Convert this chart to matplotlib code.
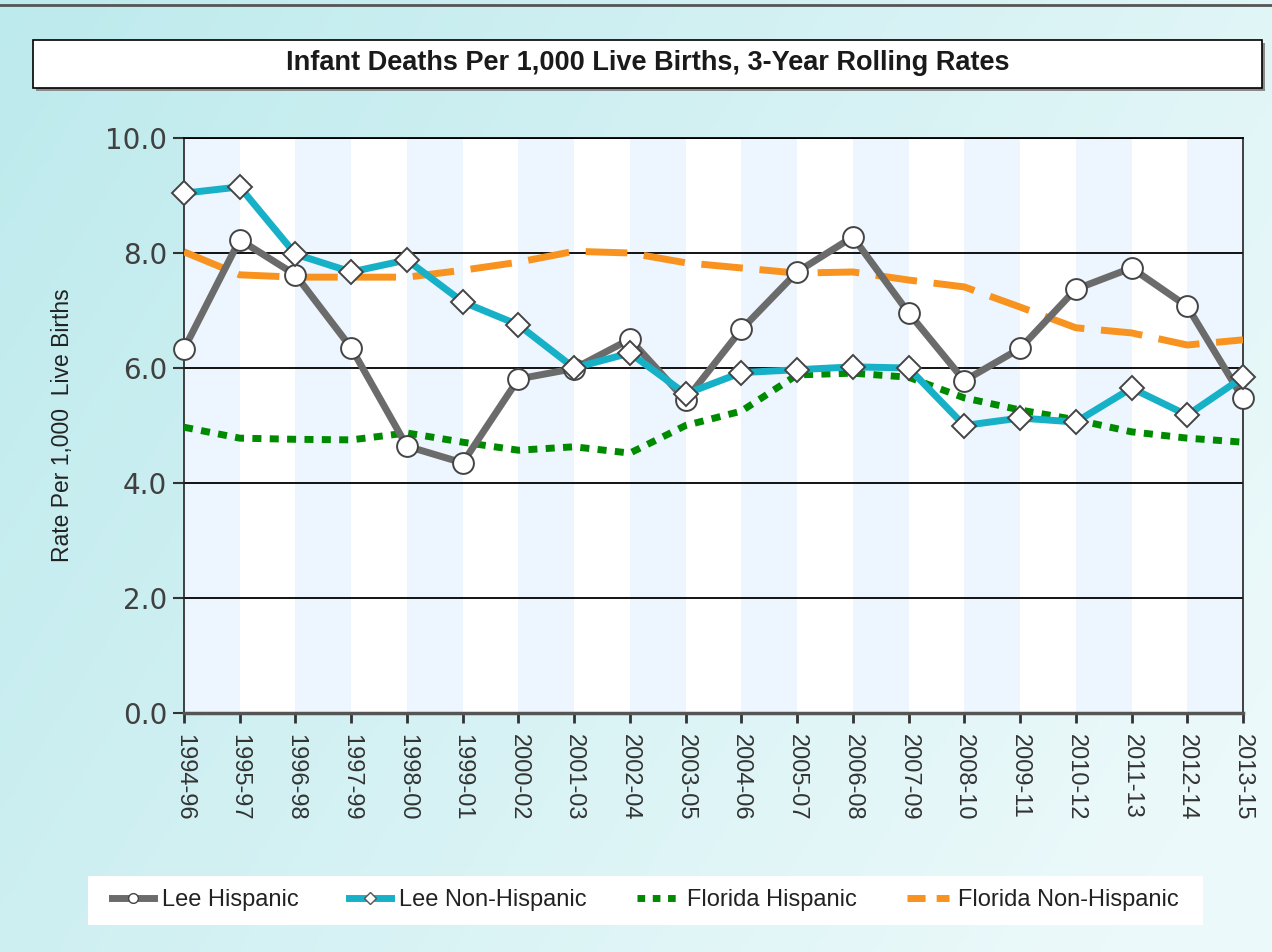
import numpy as np
import matplotlib
matplotlib.use('Agg')
import matplotlib.pyplot as plt
from matplotlib.patches import Rectangle
from matplotlib.lines import Line2D

plt.rcParams['font.family'] = ['Liberation Sans', 'DejaVu Sans']

periods = ['1994-96', '1995-97', '1996-98', '1997-99', '1998-00', '1999-01',
           '2000-02', '2001-03', '2002-04', '2003-05', '2004-06', '2005-07',
           '2006-08', '2007-09', '2008-10', '2009-11', '2010-12', '2011-13',
           '2012-14', '2013-15']
lee_hisp = [6.33, 8.23, 7.62, 6.35, 4.64, 4.35, 5.81, 5.99, 6.50, 5.44,
            6.67, 7.67, 8.28, 6.96, 5.78, 6.34, 7.37, 7.74, 7.07, 5.47]
lee_nonhisp = [9.04, 9.15, 7.98, 7.67, 7.88, 7.15, 6.75, 6.00, 6.26, 5.55,
               5.92, 5.97, 6.02, 6.00, 5.00, 5.13, 5.06, 5.65, 5.18, 5.84]
fl_hisp = [4.97, 4.78, 4.76, 4.75, 4.87, 4.71, 4.57, 4.63, 4.52, 5.00,
           5.25, 5.88, 5.91, 5.84, 5.48, 5.27, 5.10, 4.89, 4.78, 4.71]
fl_nonhisp = [8.02, 7.62, 7.58, 7.58, 7.58, 7.70, 7.84, 8.03, 8.00, 7.83,
              7.74, 7.65, 7.67, 7.53, 7.41, 7.06, 6.70, 6.61, 6.40, 6.49]
yticks = [0, 2, 4, 6, 8, 10]

W, H = 1272, 952
fig = plt.figure(figsize=(W / 100, H / 100), dpi=100)

# background gradient
bg = fig.add_axes([0, 0, 1, 1], zorder=-10)
gx, gy = np.meshgrid(np.linspace(0, 1, 300), np.linspace(0, 1, 300))
t = np.clip(0.75 * gx + 0.35 * gy, 0, 1)[..., None]
c0 = np.array([189, 234, 237]) / 255
c1 = np.array([236, 249, 250]) / 255
bg.imshow(c0 + (c1 - c0) * t, aspect='auto', extent=[0, 1, 0, 1], origin='upper')
bg.set_xlim(0, 1)
bg.set_ylim(0, 1)
bg.axis('off')
bg.plot([0, 1], [1 - 5 / H, 1 - 5 / H], color='#555555', lw=2)

# title box
x0, x1, ytop, ybot = 33, 1262, 40, 88
fig.patches.append(Rectangle(((x0 + 3) / W, 1 - (ybot + 3) / H), (x1 - x0) / W, (ybot - ytop) / H,
                             transform=fig.transFigure, facecolor='#8a8a8a', edgecolor='none', zorder=1))
fig.patches.append(Rectangle((x0 / W, 1 - ybot / H), (x1 - x0) / W, (ybot - ytop) / H,
                             transform=fig.transFigure, facecolor='white', edgecolor='black', lw=1.2, zorder=2))
fig.text((x0 + x1) / 2 / W, 1 - 63 / H, 'Infant Deaths Per 1,000 Live Births, 3-Year Rolling Rates',
         ha='center', va='center', fontsize=19.5, fontweight='bold', color='#1a1a1a', zorder=3)

# legend background box (under the plot axes, above the gradient)
fig.patches.append(Rectangle((88 / W, 1 - 925 / H), (1203 - 88) / W, 49 / H,
                             transform=fig.transFigure, facecolor='white', edgecolor='none', zorder=-5))

ax = fig.add_axes([184 / W, 1 - 713 / H, 1059 / W, 575 / H])
x = np.arange(len(periods))
for i in range(len(periods) - 1):
    if i % 2 == 0:
        ax.axvspan(i, i + 1, color='#EDF5FE', lw=0, zorder=0)

ax.set_xlim(0, len(periods) - 1)
ax.set_ylim(0, 10)
ax.set_yticks(yticks)
ax.set_yticklabels([f'{v:.1f}' for v in yticks], family='DejaVu Sans')
ax.set_xticks(x)
ax.set_xticklabels(periods)
ax.yaxis.grid(True, color='black', lw=1.3)
ax.set_axisbelow(True)

for s in ['left', 'right']:
    ax.spines[s].set_linestyle((0, (1, 1)))
    ax.spines[s].set_color('#222222')
    ax.spines[s].set_linewidth(1.2)
ax.spines['top'].set_color('black')
ax.spines['top'].set_linewidth(1.3)
ax.spines['bottom'].set_color('#555555')
ax.spines['bottom'].set_linewidth(2.5)

ax.tick_params(axis='x', direction='out', length=7, width=2, color='#333333', pad=8,
               labelrotation=-90, labelsize=17, labelcolor='#333333')
ax.tick_params(axis='y', direction='out', length=8, width=1.5, color='#333333', pad=4,
               labelsize=20, labelcolor='#404040')

gray, cyan, green, orange = '#6B6B6B', '#17B1C7', '#008A00', '#F7931E'

ax.plot(x, fl_hisp, color=green, lw=5, ls=(0, (1.3, 1.2)), zorder=3)
ax.plot(x, fl_nonhisp, color=orange, lw=5, ls=(0, (6, 2.4)), zorder=3)
ax.plot(x, lee_hisp, color=gray, lw=5, marker='o', ms=15, mfc='white', mec='#444444',
        mew=1.4, zorder=4, clip_on=False)
ax.plot(x, lee_nonhisp, color=cyan, lw=5, marker='D', ms=12, mfc='white', mec='#444444',
        mew=1.4, zorder=5, clip_on=False)

fig.text(62 / W, 1 - 425 / H, 'Rate Per 1,000  Live Births', rotation=90, ha='center', va='center',
         fontsize=16.5, color='#222222')

handles = [
    Line2D([], [], color=gray, lw=5, marker='o', ms=7, mfc='white', mec='#444444'),
    Line2D([], [], color=cyan, lw=5, marker='D', ms=6, mfc='white', mec='#555555'),
    Line2D([], [], color=green, lw=5, ls=(0, (1.1, 1.1))),
    Line2D([], [], color=orange, lw=5, ls=(0, (2.6, 1.6))),
]
labels = ['Lee Hispanic', 'Lee Non-Hispanic', 'Florida Hispanic', 'Florida Non-Hispanic']
leg = ax.legend(handles, labels, ncol=4, loc='center', bbox_to_anchor=(645 / W, 1 - 900 / H),
                bbox_transform=fig.transFigure, frameon=False, prop={'size': 17},
                handlelength=1.8, columnspacing=2.1, handletextpad=0.35)
for txt in leg.get_texts():
    txt.set_color('#222222')

fig.savefig('out.png', dpi=100)
